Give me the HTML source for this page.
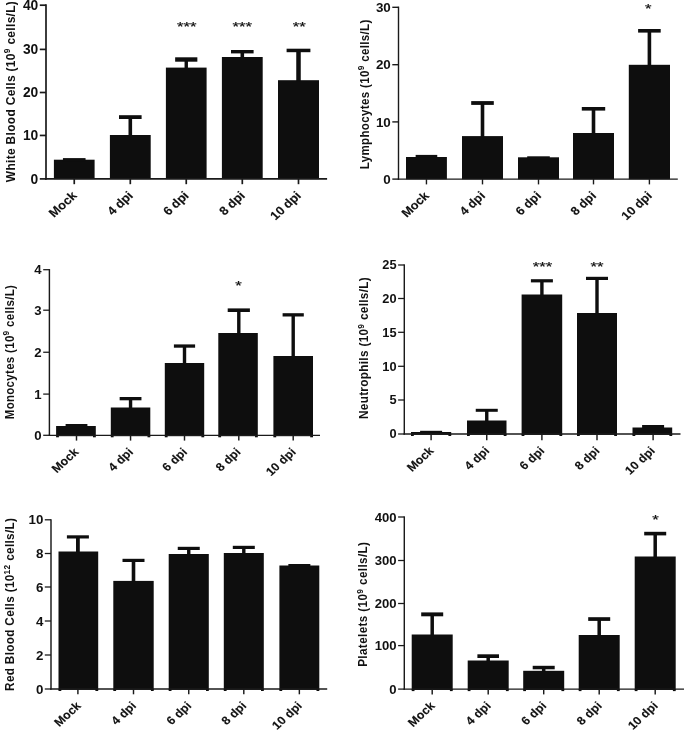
<!DOCTYPE html>
<html><head><meta charset="utf-8"><title>Figure</title>
<style>html,body{margin:0;padding:0;background:#fff}svg{display:block}text{font-family:"Liberation Sans", sans-serif;font-weight:bold;fill:#111}</style></head>
<body>
<svg width="685" height="731" viewBox="0 0 685 731">
<rect width="685" height="731" fill="#fff"/>
<g id="wbc">
<rect x="53.90" y="159.70" width="40.70" height="19.40" fill="#0e0e0e"/>
<rect x="62.95" y="158.10" width="22.60" height="3.00" fill="#0e0e0e"/>
<line x1="74.25" y1="178.90" x2="74.25" y2="184.20" stroke="#1a1a1a" stroke-width="1.70"/>
<rect x="109.90" y="135.00" width="40.80" height="44.10" fill="#0e0e0e"/>
<rect x="128.50" y="116.20" width="3.60" height="19.80" fill="#0e0e0e"/>
<rect x="119.00" y="115.20" width="22.60" height="3.80" fill="#0e0e0e"/>
<line x1="130.30" y1="178.90" x2="130.30" y2="184.20" stroke="#1a1a1a" stroke-width="1.70"/>
<rect x="165.90" y="67.60" width="40.70" height="111.50" fill="#0e0e0e"/>
<rect x="184.55" y="58.30" width="3.40" height="10.30" fill="#0e0e0e"/>
<rect x="175.15" y="57.30" width="22.20" height="4.40" fill="#0e0e0e"/>
<line x1="186.25" y1="178.90" x2="186.25" y2="184.20" stroke="#1a1a1a" stroke-width="1.70"/>
<rect x="221.90" y="57.00" width="40.80" height="122.10" fill="#0e0e0e"/>
<rect x="240.50" y="51.00" width="3.60" height="7.00" fill="#0e0e0e"/>
<rect x="231.00" y="50.00" width="22.60" height="3.40" fill="#0e0e0e"/>
<line x1="242.30" y1="178.90" x2="242.30" y2="184.20" stroke="#1a1a1a" stroke-width="1.70"/>
<rect x="278.00" y="80.20" width="41.00" height="98.90" fill="#0e0e0e"/>
<rect x="296.25" y="49.70" width="4.50" height="31.50" fill="#0e0e0e"/>
<rect x="286.60" y="48.70" width="23.80" height="3.50" fill="#0e0e0e"/>
<line x1="298.50" y1="178.90" x2="298.50" y2="184.20" stroke="#1a1a1a" stroke-width="1.70"/>
<line x1="46.00" y1="4.35" x2="46.00" y2="179.75" stroke="#1a1a1a" stroke-width="1.70"/>
<line x1="45.15" y1="178.90" x2="327.10" y2="178.90" stroke="#1a1a1a" stroke-width="1.70"/>
<line x1="39.80" y1="5.20" x2="46.00" y2="5.20" stroke="#1a1a1a" stroke-width="1.70"/>
<text x="38.30" y="10.00" font-size="13.8" text-anchor="end">40</text>
<line x1="39.80" y1="49.40" x2="46.00" y2="49.40" stroke="#1a1a1a" stroke-width="1.70"/>
<text x="38.30" y="54.20" font-size="13.8" text-anchor="end">30</text>
<line x1="39.80" y1="92.50" x2="46.00" y2="92.50" stroke="#1a1a1a" stroke-width="1.70"/>
<text x="38.30" y="97.30" font-size="13.8" text-anchor="end">20</text>
<line x1="39.80" y1="135.45" x2="46.00" y2="135.45" stroke="#1a1a1a" stroke-width="1.70"/>
<text x="38.30" y="140.25" font-size="13.8" text-anchor="end">10</text>
<line x1="39.80" y1="178.90" x2="46.00" y2="178.90" stroke="#1a1a1a" stroke-width="1.70"/>
<text x="38.30" y="183.70" font-size="13.8" text-anchor="end">0</text>
<text transform="translate(77.65 196.30) scale(1.06 0.98) rotate(-45)" font-size="12.3" text-anchor="end" word-spacing="-0.4" stroke="#111" stroke-width="0.12">Mock</text>
<text transform="translate(133.70 196.30) scale(1.06 0.98) rotate(-45)" font-size="12.3" text-anchor="end" word-spacing="-0.4" stroke="#111" stroke-width="0.12">4 dpi</text>
<text transform="translate(189.65 196.30) scale(1.06 0.98) rotate(-45)" font-size="12.3" text-anchor="end" word-spacing="-0.4" stroke="#111" stroke-width="0.12">6 dpi</text>
<text transform="translate(245.70 196.30) scale(1.06 0.98) rotate(-45)" font-size="12.3" text-anchor="end" word-spacing="-0.4" stroke="#111" stroke-width="0.12">8 dpi</text>
<text transform="translate(301.90 196.30) scale(1.06 0.98) rotate(-45)" font-size="12.3" text-anchor="end" word-spacing="-0.4" stroke="#111" stroke-width="0.12">10 dpi</text>
<text transform="translate(186.80 30.60) scale(1.25 1)" font-size="13.4" text-anchor="middle" style="font-weight:normal" stroke="#111" stroke-width="0.2">***</text>
<text transform="translate(242.30 30.60) scale(1.25 1)" font-size="13.4" text-anchor="middle" style="font-weight:normal" stroke="#111" stroke-width="0.2">***</text>
<text transform="translate(299.20 30.60) scale(1.25 1)" font-size="13.4" text-anchor="middle" style="font-weight:normal" stroke="#111" stroke-width="0.2">**</text>
<text transform="translate(14.80 91.50) scale(1.07 1) rotate(-90)" font-size="11.94" letter-spacing="0.33" text-anchor="middle">White Blood Cells (10<tspan font-size="8.4" dy="-4.2">9</tspan><tspan dy="4.2"> cells/L)</tspan></text>
</g>
<g id="lym">
<rect x="406.00" y="157.00" width="40.90" height="22.30" fill="#0e0e0e"/>
<rect x="415.65" y="154.90" width="21.60" height="3.00" fill="#0e0e0e"/>
<line x1="426.45" y1="179.10" x2="426.45" y2="184.40" stroke="#1a1a1a" stroke-width="1.40"/>
<rect x="462.00" y="136.10" width="41.00" height="43.20" fill="#0e0e0e"/>
<rect x="480.70" y="102.10" width="3.60" height="35.00" fill="#0e0e0e"/>
<rect x="471.20" y="101.10" width="22.60" height="3.80" fill="#0e0e0e"/>
<line x1="482.50" y1="179.10" x2="482.50" y2="184.40" stroke="#1a1a1a" stroke-width="1.40"/>
<rect x="518.00" y="157.30" width="41.00" height="22.00" fill="#0e0e0e"/>
<rect x="527.20" y="156.30" width="22.60" height="3.00" fill="#0e0e0e"/>
<line x1="538.50" y1="179.10" x2="538.50" y2="184.40" stroke="#1a1a1a" stroke-width="1.40"/>
<rect x="573.00" y="133.00" width="41.00" height="46.30" fill="#0e0e0e"/>
<rect x="591.70" y="108.00" width="3.60" height="26.00" fill="#0e0e0e"/>
<rect x="581.80" y="107.00" width="23.40" height="3.60" fill="#0e0e0e"/>
<line x1="593.50" y1="179.10" x2="593.50" y2="184.40" stroke="#1a1a1a" stroke-width="1.40"/>
<rect x="628.80" y="64.80" width="41.20" height="114.50" fill="#0e0e0e"/>
<rect x="647.60" y="30.00" width="3.60" height="35.80" fill="#0e0e0e"/>
<rect x="638.10" y="29.00" width="22.60" height="3.60" fill="#0e0e0e"/>
<line x1="649.40" y1="179.10" x2="649.40" y2="184.40" stroke="#1a1a1a" stroke-width="1.40"/>
<line x1="398.50" y1="6.60" x2="398.50" y2="179.80" stroke="#1a1a1a" stroke-width="1.40"/>
<line x1="397.80" y1="179.10" x2="677.80" y2="179.10" stroke="#1a1a1a" stroke-width="1.40"/>
<line x1="392.30" y1="7.30" x2="398.50" y2="7.30" stroke="#1a1a1a" stroke-width="1.40"/>
<text x="390.80" y="11.96" font-size="13.4" text-anchor="end">30</text>
<line x1="392.30" y1="64.70" x2="398.50" y2="64.70" stroke="#1a1a1a" stroke-width="1.40"/>
<text x="390.80" y="69.36" font-size="13.4" text-anchor="end">20</text>
<line x1="392.30" y1="121.90" x2="398.50" y2="121.90" stroke="#1a1a1a" stroke-width="1.40"/>
<text x="390.80" y="126.56" font-size="13.4" text-anchor="end">10</text>
<line x1="392.30" y1="179.10" x2="398.50" y2="179.10" stroke="#1a1a1a" stroke-width="1.40"/>
<text x="390.80" y="183.76" font-size="13.4" text-anchor="end">0</text>
<text transform="translate(429.85 196.50) scale(1.06 0.98) rotate(-45)" font-size="12.1" text-anchor="end" word-spacing="0.0" stroke="#111" stroke-width="0.12">Mock</text>
<text transform="translate(485.90 196.50) scale(1.06 0.98) rotate(-45)" font-size="12.1" text-anchor="end" word-spacing="0.0" stroke="#111" stroke-width="0.12">4 dpi</text>
<text transform="translate(541.90 196.50) scale(1.06 0.98) rotate(-45)" font-size="12.1" text-anchor="end" word-spacing="0.0" stroke="#111" stroke-width="0.12">6 dpi</text>
<text transform="translate(596.90 196.50) scale(1.06 0.98) rotate(-45)" font-size="12.1" text-anchor="end" word-spacing="0.0" stroke="#111" stroke-width="0.12">8 dpi</text>
<text transform="translate(652.80 196.50) scale(1.06 0.98) rotate(-45)" font-size="12.1" text-anchor="end" word-spacing="0.0" stroke="#111" stroke-width="0.12">10 dpi</text>
<text transform="translate(648.20 13.30) scale(1.25 1)" font-size="13.4" text-anchor="middle" style="font-weight:normal" stroke="#111" stroke-width="0.2">*</text>
<text transform="translate(368.50 94.30) scale(1.07 1) rotate(-90)" font-size="11.56" letter-spacing="0.33" text-anchor="middle">Lymphocytes (10<tspan font-size="8.4" dy="-4.2">9</tspan><tspan dy="4.2"> cells/L)</tspan></text>
</g>
<g id="mono">
<rect x="56.10" y="426.00" width="39.70" height="10.20" fill="#0e0e0e"/>
<rect x="56.10" y="435.30" width="2.8" height="2" fill="#0e0e0e"/>
<rect x="93.00" y="435.30" width="2.8" height="2" fill="#0e0e0e"/>
<rect x="65.60" y="424.00" width="21.80" height="3.00" fill="#0e0e0e"/>
<line x1="76.50" y1="435.30" x2="76.50" y2="440.60" stroke="#1a1a1a" stroke-width="1.45"/>
<rect x="110.80" y="407.50" width="39.50" height="28.70" fill="#0e0e0e"/>
<rect x="110.80" y="435.30" width="2.8" height="2" fill="#0e0e0e"/>
<rect x="147.50" y="435.30" width="2.8" height="2" fill="#0e0e0e"/>
<rect x="128.85" y="398.00" width="3.40" height="10.50" fill="#0e0e0e"/>
<rect x="119.65" y="397.00" width="21.80" height="3.30" fill="#0e0e0e"/>
<line x1="130.55" y1="435.30" x2="130.55" y2="440.60" stroke="#1a1a1a" stroke-width="1.45"/>
<rect x="164.80" y="363.00" width="39.40" height="73.20" fill="#0e0e0e"/>
<rect x="164.80" y="435.30" width="2.8" height="2" fill="#0e0e0e"/>
<rect x="201.40" y="435.30" width="2.8" height="2" fill="#0e0e0e"/>
<rect x="182.80" y="345.40" width="3.40" height="18.60" fill="#0e0e0e"/>
<rect x="173.90" y="344.40" width="21.20" height="3.30" fill="#0e0e0e"/>
<line x1="184.50" y1="435.30" x2="184.50" y2="440.60" stroke="#1a1a1a" stroke-width="1.45"/>
<rect x="218.30" y="333.00" width="39.50" height="103.20" fill="#0e0e0e"/>
<rect x="218.30" y="435.30" width="2.8" height="2" fill="#0e0e0e"/>
<rect x="255.00" y="435.30" width="2.8" height="2" fill="#0e0e0e"/>
<rect x="237.10" y="309.40" width="3.40" height="24.60" fill="#0e0e0e"/>
<rect x="227.70" y="308.40" width="22.20" height="3.60" fill="#0e0e0e"/>
<line x1="238.80" y1="435.30" x2="238.80" y2="440.60" stroke="#1a1a1a" stroke-width="1.45"/>
<rect x="273.40" y="356.00" width="39.60" height="80.20" fill="#0e0e0e"/>
<rect x="273.40" y="435.30" width="2.8" height="2" fill="#0e0e0e"/>
<rect x="310.20" y="435.30" width="2.8" height="2" fill="#0e0e0e"/>
<rect x="291.50" y="314.20" width="3.40" height="42.80" fill="#0e0e0e"/>
<rect x="282.60" y="313.20" width="21.20" height="3.30" fill="#0e0e0e"/>
<line x1="293.20" y1="435.30" x2="293.20" y2="440.60" stroke="#1a1a1a" stroke-width="1.45"/>
<line x1="49.40" y1="269.06" x2="49.40" y2="435.94" stroke="#1a1a1a" stroke-width="1.45"/>
<line x1="48.67" y1="435.30" x2="320.00" y2="435.30" stroke="#1a1a1a" stroke-width="1.28"/>
<line x1="43.20" y1="269.70" x2="49.40" y2="269.70" stroke="#1a1a1a" stroke-width="1.28"/>
<text x="41.70" y="274.29" font-size="13.2" text-anchor="end">4</text>
<line x1="43.20" y1="310.20" x2="49.40" y2="310.20" stroke="#1a1a1a" stroke-width="1.28"/>
<text x="41.70" y="314.79" font-size="13.2" text-anchor="end">3</text>
<line x1="43.20" y1="352.25" x2="49.40" y2="352.25" stroke="#1a1a1a" stroke-width="1.28"/>
<text x="41.70" y="356.84" font-size="13.2" text-anchor="end">2</text>
<line x1="43.20" y1="394.10" x2="49.40" y2="394.10" stroke="#1a1a1a" stroke-width="1.28"/>
<text x="41.70" y="398.69" font-size="13.2" text-anchor="end">1</text>
<line x1="43.20" y1="435.30" x2="49.40" y2="435.30" stroke="#1a1a1a" stroke-width="1.28"/>
<text x="41.70" y="439.89" font-size="13.2" text-anchor="end">0</text>
<text transform="translate(79.35 452.70) scale(1.06 0.98) rotate(-45)" font-size="11.8" text-anchor="end" word-spacing="0.2" stroke="#111" stroke-width="0.12">Mock</text>
<text transform="translate(133.95 452.70) scale(1.06 0.98) rotate(-45)" font-size="11.8" text-anchor="end" word-spacing="0.2" stroke="#111" stroke-width="0.12">4 dpi</text>
<text transform="translate(187.90 452.70) scale(1.06 0.98) rotate(-45)" font-size="11.8" text-anchor="end" word-spacing="0.2" stroke="#111" stroke-width="0.12">6 dpi</text>
<text transform="translate(241.45 452.70) scale(1.06 0.98) rotate(-45)" font-size="11.8" text-anchor="end" word-spacing="0.2" stroke="#111" stroke-width="0.12">8 dpi</text>
<text transform="translate(296.60 452.70) scale(1.06 0.98) rotate(-45)" font-size="11.8" text-anchor="end" word-spacing="0.2" stroke="#111" stroke-width="0.12">10 dpi</text>
<text transform="translate(238.40 290.40) scale(1.25 1)" font-size="13.4" text-anchor="middle" style="font-weight:normal" stroke="#111" stroke-width="0.2">*</text>
<text transform="translate(13.80 352.00) scale(1.07 1) rotate(-90)" font-size="11.47" letter-spacing="0.33" text-anchor="middle">Monocytes (10<tspan font-size="8.4" dy="-4.2">9</tspan><tspan dy="4.2"> cells/L)</tspan></text>
</g>
<g id="neu">
<rect x="411.00" y="432.00" width="40.20" height="2.90" fill="#0e0e0e"/>
<rect x="411.00" y="434.00" width="2.8" height="2" fill="#0e0e0e"/>
<rect x="448.40" y="434.00" width="2.8" height="2" fill="#0e0e0e"/>
<rect x="420.10" y="430.80" width="22.00" height="2.60" fill="#0e0e0e"/>
<line x1="431.10" y1="434.00" x2="431.10" y2="440.20" stroke="#1a1a1a" stroke-width="1.45"/>
<rect x="467.00" y="420.50" width="39.50" height="14.40" fill="#0e0e0e"/>
<rect x="467.00" y="434.00" width="2.8" height="2" fill="#0e0e0e"/>
<rect x="503.70" y="434.00" width="2.8" height="2" fill="#0e0e0e"/>
<rect x="485.05" y="409.80" width="3.40" height="11.70" fill="#0e0e0e"/>
<rect x="475.75" y="408.80" width="22.00" height="3.00" fill="#0e0e0e"/>
<line x1="486.75" y1="434.00" x2="486.75" y2="440.20" stroke="#1a1a1a" stroke-width="1.45"/>
<rect x="521.60" y="294.50" width="40.60" height="140.40" fill="#0e0e0e"/>
<rect x="521.60" y="434.00" width="2.8" height="2" fill="#0e0e0e"/>
<rect x="559.40" y="434.00" width="2.8" height="2" fill="#0e0e0e"/>
<rect x="540.20" y="280.20" width="3.40" height="15.30" fill="#0e0e0e"/>
<rect x="530.90" y="279.20" width="22.00" height="3.20" fill="#0e0e0e"/>
<line x1="541.90" y1="434.00" x2="541.90" y2="440.20" stroke="#1a1a1a" stroke-width="1.45"/>
<rect x="577.00" y="313.00" width="40.00" height="121.90" fill="#0e0e0e"/>
<rect x="577.00" y="434.00" width="2.8" height="2" fill="#0e0e0e"/>
<rect x="614.20" y="434.00" width="2.8" height="2" fill="#0e0e0e"/>
<rect x="595.30" y="277.80" width="3.40" height="36.20" fill="#0e0e0e"/>
<rect x="586.00" y="276.80" width="22.00" height="3.20" fill="#0e0e0e"/>
<line x1="597.00" y1="434.00" x2="597.00" y2="440.20" stroke="#1a1a1a" stroke-width="1.45"/>
<rect x="632.50" y="427.50" width="39.70" height="7.40" fill="#0e0e0e"/>
<rect x="632.50" y="434.00" width="2.8" height="2" fill="#0e0e0e"/>
<rect x="669.40" y="434.00" width="2.8" height="2" fill="#0e0e0e"/>
<rect x="642.10" y="425.00" width="22.00" height="3.00" fill="#0e0e0e"/>
<line x1="653.10" y1="434.00" x2="653.10" y2="440.20" stroke="#1a1a1a" stroke-width="1.45"/>
<line x1="404.30" y1="264.36" x2="404.30" y2="434.64" stroke="#1a1a1a" stroke-width="1.45"/>
<line x1="403.57" y1="434.00" x2="680.50" y2="434.00" stroke="#1a1a1a" stroke-width="1.28"/>
<line x1="398.10" y1="265.00" x2="404.30" y2="265.00" stroke="#1a1a1a" stroke-width="1.28"/>
<text x="396.60" y="269.45" font-size="12.8" text-anchor="end">25</text>
<line x1="398.10" y1="298.50" x2="404.30" y2="298.50" stroke="#1a1a1a" stroke-width="1.28"/>
<text x="396.60" y="302.95" font-size="12.8" text-anchor="end">20</text>
<line x1="398.10" y1="332.30" x2="404.30" y2="332.30" stroke="#1a1a1a" stroke-width="1.28"/>
<text x="396.60" y="336.75" font-size="12.8" text-anchor="end">15</text>
<line x1="398.10" y1="366.30" x2="404.30" y2="366.30" stroke="#1a1a1a" stroke-width="1.28"/>
<text x="396.60" y="370.75" font-size="12.8" text-anchor="end">10</text>
<line x1="398.10" y1="400.00" x2="404.30" y2="400.00" stroke="#1a1a1a" stroke-width="1.28"/>
<text x="396.60" y="404.45" font-size="12.8" text-anchor="end">5</text>
<line x1="398.10" y1="434.00" x2="404.30" y2="434.00" stroke="#1a1a1a" stroke-width="1.28"/>
<text x="396.60" y="438.45" font-size="12.8" text-anchor="end">0</text>
<text transform="translate(434.50 451.40) scale(1.06 0.98) rotate(-45)" font-size="11.8" text-anchor="end" word-spacing="0.2" stroke="#111" stroke-width="0.12">Mock</text>
<text transform="translate(490.15 451.40) scale(1.06 0.98) rotate(-45)" font-size="11.8" text-anchor="end" word-spacing="0.2" stroke="#111" stroke-width="0.12">4 dpi</text>
<text transform="translate(545.30 451.40) scale(1.06 0.98) rotate(-45)" font-size="11.8" text-anchor="end" word-spacing="0.2" stroke="#111" stroke-width="0.12">6 dpi</text>
<text transform="translate(600.40 451.40) scale(1.06 0.98) rotate(-45)" font-size="11.8" text-anchor="end" word-spacing="0.2" stroke="#111" stroke-width="0.12">8 dpi</text>
<text transform="translate(655.75 451.40) scale(1.06 0.98) rotate(-45)" font-size="11.8" text-anchor="end" word-spacing="0.2" stroke="#111" stroke-width="0.12">10 dpi</text>
<text transform="translate(542.50 270.70) scale(1.25 1)" font-size="13.4" text-anchor="middle" style="font-weight:normal" stroke="#111" stroke-width="0.2">***</text>
<text transform="translate(597.00 270.70) scale(1.25 1)" font-size="13.4" text-anchor="middle" style="font-weight:normal" stroke="#111" stroke-width="0.2">**</text>
<text transform="translate(368.40 348.00) scale(1.07 1) rotate(-90)" font-size="11.75" letter-spacing="0.33" text-anchor="middle">Neutrophils (10<tspan font-size="8.4" dy="-4.2">9</tspan><tspan dy="4.2"> cells/L)</tspan></text>
</g>
<g id="rbc">
<rect x="58.50" y="551.50" width="39.70" height="138.40" fill="#0e0e0e"/>
<rect x="58.50" y="689.00" width="2.8" height="2" fill="#0e0e0e"/>
<rect x="95.40" y="689.00" width="2.8" height="2" fill="#0e0e0e"/>
<rect x="76.00" y="536.30" width="3.80" height="16.20" fill="#0e0e0e"/>
<rect x="66.90" y="535.30" width="22.00" height="3.20" fill="#0e0e0e"/>
<line x1="77.90" y1="689.00" x2="77.90" y2="694.30" stroke="#1a1a1a" stroke-width="1.45"/>
<rect x="113.30" y="580.90" width="40.40" height="109.00" fill="#0e0e0e"/>
<rect x="113.30" y="689.00" width="2.8" height="2" fill="#0e0e0e"/>
<rect x="150.90" y="689.00" width="2.8" height="2" fill="#0e0e0e"/>
<rect x="131.70" y="559.80" width="3.60" height="22.10" fill="#0e0e0e"/>
<rect x="122.50" y="558.80" width="22.00" height="3.20" fill="#0e0e0e"/>
<line x1="133.50" y1="689.00" x2="133.50" y2="694.30" stroke="#1a1a1a" stroke-width="1.45"/>
<rect x="168.70" y="554.00" width="40.10" height="135.90" fill="#0e0e0e"/>
<rect x="168.70" y="689.00" width="2.8" height="2" fill="#0e0e0e"/>
<rect x="206.00" y="689.00" width="2.8" height="2" fill="#0e0e0e"/>
<rect x="187.05" y="547.80" width="3.40" height="7.20" fill="#0e0e0e"/>
<rect x="177.75" y="546.80" width="22.00" height="3.20" fill="#0e0e0e"/>
<line x1="188.75" y1="689.00" x2="188.75" y2="694.30" stroke="#1a1a1a" stroke-width="1.45"/>
<rect x="223.80" y="553.00" width="40.00" height="136.90" fill="#0e0e0e"/>
<rect x="223.80" y="689.00" width="2.8" height="2" fill="#0e0e0e"/>
<rect x="261.00" y="689.00" width="2.8" height="2" fill="#0e0e0e"/>
<rect x="242.10" y="546.80" width="3.40" height="7.20" fill="#0e0e0e"/>
<rect x="232.80" y="545.80" width="22.00" height="3.20" fill="#0e0e0e"/>
<line x1="243.80" y1="689.00" x2="243.80" y2="694.30" stroke="#1a1a1a" stroke-width="1.45"/>
<rect x="279.40" y="565.50" width="39.90" height="124.40" fill="#0e0e0e"/>
<rect x="279.40" y="689.00" width="2.8" height="2" fill="#0e0e0e"/>
<rect x="316.50" y="689.00" width="2.8" height="2" fill="#0e0e0e"/>
<rect x="288.35" y="564.00" width="22.00" height="2.60" fill="#0e0e0e"/>
<line x1="299.35" y1="689.00" x2="299.35" y2="694.30" stroke="#1a1a1a" stroke-width="1.45"/>
<line x1="51.00" y1="519.16" x2="51.00" y2="689.64" stroke="#1a1a1a" stroke-width="1.45"/>
<line x1="50.27" y1="689.00" x2="327.20" y2="689.00" stroke="#1a1a1a" stroke-width="1.28"/>
<line x1="44.80" y1="519.80" x2="51.00" y2="519.80" stroke="#1a1a1a" stroke-width="1.28"/>
<text x="43.30" y="524.43" font-size="13.3" text-anchor="end">10</text>
<line x1="44.80" y1="553.50" x2="51.00" y2="553.50" stroke="#1a1a1a" stroke-width="1.28"/>
<text x="43.30" y="558.13" font-size="13.3" text-anchor="end">8</text>
<line x1="44.80" y1="587.00" x2="51.00" y2="587.00" stroke="#1a1a1a" stroke-width="1.28"/>
<text x="43.30" y="591.63" font-size="13.3" text-anchor="end">6</text>
<line x1="44.80" y1="621.00" x2="51.00" y2="621.00" stroke="#1a1a1a" stroke-width="1.28"/>
<text x="43.30" y="625.63" font-size="13.3" text-anchor="end">4</text>
<line x1="44.80" y1="655.00" x2="51.00" y2="655.00" stroke="#1a1a1a" stroke-width="1.28"/>
<text x="43.30" y="659.63" font-size="13.3" text-anchor="end">2</text>
<line x1="44.80" y1="689.00" x2="51.00" y2="689.00" stroke="#1a1a1a" stroke-width="1.28"/>
<text x="43.30" y="693.63" font-size="13.3" text-anchor="end">0</text>
<text transform="translate(81.75 706.40) scale(1.06 0.98) rotate(-45)" font-size="11.8" text-anchor="end" word-spacing="0.2" stroke="#111" stroke-width="0.12">Mock</text>
<text transform="translate(136.90 706.40) scale(1.06 0.98) rotate(-45)" font-size="11.8" text-anchor="end" word-spacing="0.2" stroke="#111" stroke-width="0.12">4 dpi</text>
<text transform="translate(192.15 706.40) scale(1.06 0.98) rotate(-45)" font-size="11.8" text-anchor="end" word-spacing="0.2" stroke="#111" stroke-width="0.12">6 dpi</text>
<text transform="translate(247.20 706.40) scale(1.06 0.98) rotate(-45)" font-size="11.8" text-anchor="end" word-spacing="0.2" stroke="#111" stroke-width="0.12">8 dpi</text>
<text transform="translate(302.75 706.40) scale(1.06 0.98) rotate(-45)" font-size="11.8" text-anchor="end" word-spacing="0.2" stroke="#111" stroke-width="0.12">10 dpi</text>
<text transform="translate(14.20 604.30) scale(1.07 1) rotate(-90)" font-size="11.75" letter-spacing="0.33" text-anchor="middle">Red Blood Cells (10<tspan font-size="8.4" dy="-4.2">12</tspan><tspan dy="4.2"> cells/L)</tspan></text>
</g>
<g id="plt">
<rect x="411.70" y="634.50" width="41.00" height="55.50" fill="#0e0e0e"/>
<rect x="411.70" y="689.10" width="2.8" height="2" fill="#0e0e0e"/>
<rect x="449.90" y="689.10" width="2.8" height="2" fill="#0e0e0e"/>
<rect x="430.45" y="613.40" width="3.50" height="22.10" fill="#0e0e0e"/>
<rect x="421.20" y="612.40" width="22.00" height="3.90" fill="#0e0e0e"/>
<line x1="432.20" y1="689.10" x2="432.20" y2="694.40" stroke="#1a1a1a" stroke-width="1.45"/>
<rect x="467.70" y="660.50" width="41.00" height="29.50" fill="#0e0e0e"/>
<rect x="467.70" y="689.10" width="2.8" height="2" fill="#0e0e0e"/>
<rect x="505.90" y="689.10" width="2.8" height="2" fill="#0e0e0e"/>
<rect x="486.45" y="655.30" width="3.50" height="6.20" fill="#0e0e0e"/>
<rect x="477.40" y="654.30" width="21.60" height="3.70" fill="#0e0e0e"/>
<line x1="488.20" y1="689.10" x2="488.20" y2="694.40" stroke="#1a1a1a" stroke-width="1.45"/>
<rect x="523.20" y="670.80" width="41.00" height="19.20" fill="#0e0e0e"/>
<rect x="523.20" y="689.10" width="2.8" height="2" fill="#0e0e0e"/>
<rect x="561.40" y="689.10" width="2.8" height="2" fill="#0e0e0e"/>
<rect x="541.95" y="666.80" width="3.50" height="5.00" fill="#0e0e0e"/>
<rect x="532.70" y="665.80" width="22.00" height="3.50" fill="#0e0e0e"/>
<line x1="543.70" y1="689.10" x2="543.70" y2="694.40" stroke="#1a1a1a" stroke-width="1.45"/>
<rect x="578.70" y="635.00" width="41.00" height="55.00" fill="#0e0e0e"/>
<rect x="578.70" y="689.10" width="2.8" height="2" fill="#0e0e0e"/>
<rect x="616.90" y="689.10" width="2.8" height="2" fill="#0e0e0e"/>
<rect x="597.45" y="618.20" width="3.50" height="17.80" fill="#0e0e0e"/>
<rect x="588.20" y="617.20" width="22.00" height="3.70" fill="#0e0e0e"/>
<line x1="599.20" y1="689.10" x2="599.20" y2="694.40" stroke="#1a1a1a" stroke-width="1.45"/>
<rect x="634.70" y="556.50" width="41.00" height="133.50" fill="#0e0e0e"/>
<rect x="634.70" y="689.10" width="2.8" height="2" fill="#0e0e0e"/>
<rect x="672.90" y="689.10" width="2.8" height="2" fill="#0e0e0e"/>
<rect x="653.45" y="532.80" width="3.50" height="24.70" fill="#0e0e0e"/>
<rect x="644.20" y="531.80" width="22.00" height="3.60" fill="#0e0e0e"/>
<line x1="655.20" y1="689.10" x2="655.20" y2="694.40" stroke="#1a1a1a" stroke-width="1.45"/>
<line x1="404.30" y1="516.36" x2="404.30" y2="689.74" stroke="#1a1a1a" stroke-width="1.45"/>
<line x1="403.57" y1="689.10" x2="684.00" y2="689.10" stroke="#1a1a1a" stroke-width="1.28"/>
<line x1="398.10" y1="517.00" x2="404.30" y2="517.00" stroke="#1a1a1a" stroke-width="1.28"/>
<text x="396.60" y="521.56" font-size="13.1" text-anchor="end">400</text>
<line x1="398.10" y1="560.50" x2="404.30" y2="560.50" stroke="#1a1a1a" stroke-width="1.28"/>
<text x="396.60" y="565.06" font-size="13.1" text-anchor="end">300</text>
<line x1="398.10" y1="603.50" x2="404.30" y2="603.50" stroke="#1a1a1a" stroke-width="1.28"/>
<text x="396.60" y="608.06" font-size="13.1" text-anchor="end">200</text>
<line x1="398.10" y1="645.60" x2="404.30" y2="645.60" stroke="#1a1a1a" stroke-width="1.28"/>
<text x="396.60" y="650.16" font-size="13.1" text-anchor="end">100</text>
<line x1="398.10" y1="689.10" x2="404.30" y2="689.10" stroke="#1a1a1a" stroke-width="1.28"/>
<text x="396.60" y="693.66" font-size="13.1" text-anchor="end">0</text>
<text transform="translate(435.60 706.50) scale(1.06 0.98) rotate(-45)" font-size="11.8" text-anchor="end" word-spacing="0.2" stroke="#111" stroke-width="0.12">Mock</text>
<text transform="translate(491.60 706.50) scale(1.06 0.98) rotate(-45)" font-size="11.8" text-anchor="end" word-spacing="0.2" stroke="#111" stroke-width="0.12">4 dpi</text>
<text transform="translate(547.10 706.50) scale(1.06 0.98) rotate(-45)" font-size="11.8" text-anchor="end" word-spacing="0.2" stroke="#111" stroke-width="0.12">6 dpi</text>
<text transform="translate(602.60 706.50) scale(1.06 0.98) rotate(-45)" font-size="11.8" text-anchor="end" word-spacing="0.2" stroke="#111" stroke-width="0.12">8 dpi</text>
<text transform="translate(658.60 706.50) scale(1.06 0.98) rotate(-45)" font-size="11.8" text-anchor="end" word-spacing="0.2" stroke="#111" stroke-width="0.12">10 dpi</text>
<text transform="translate(655.50 523.90) scale(1.25 1)" font-size="13.4" text-anchor="middle" style="font-weight:normal" stroke="#111" stroke-width="0.2">*</text>
<text transform="translate(367.40 604.20) scale(1.07 1) rotate(-90)" font-size="11.66" letter-spacing="0.40" text-anchor="middle">Platelets (10<tspan font-size="8.4" dy="-4.2">9</tspan><tspan dy="4.2"> cells/L)</tspan></text>
</g>
</svg>
</body></html>
